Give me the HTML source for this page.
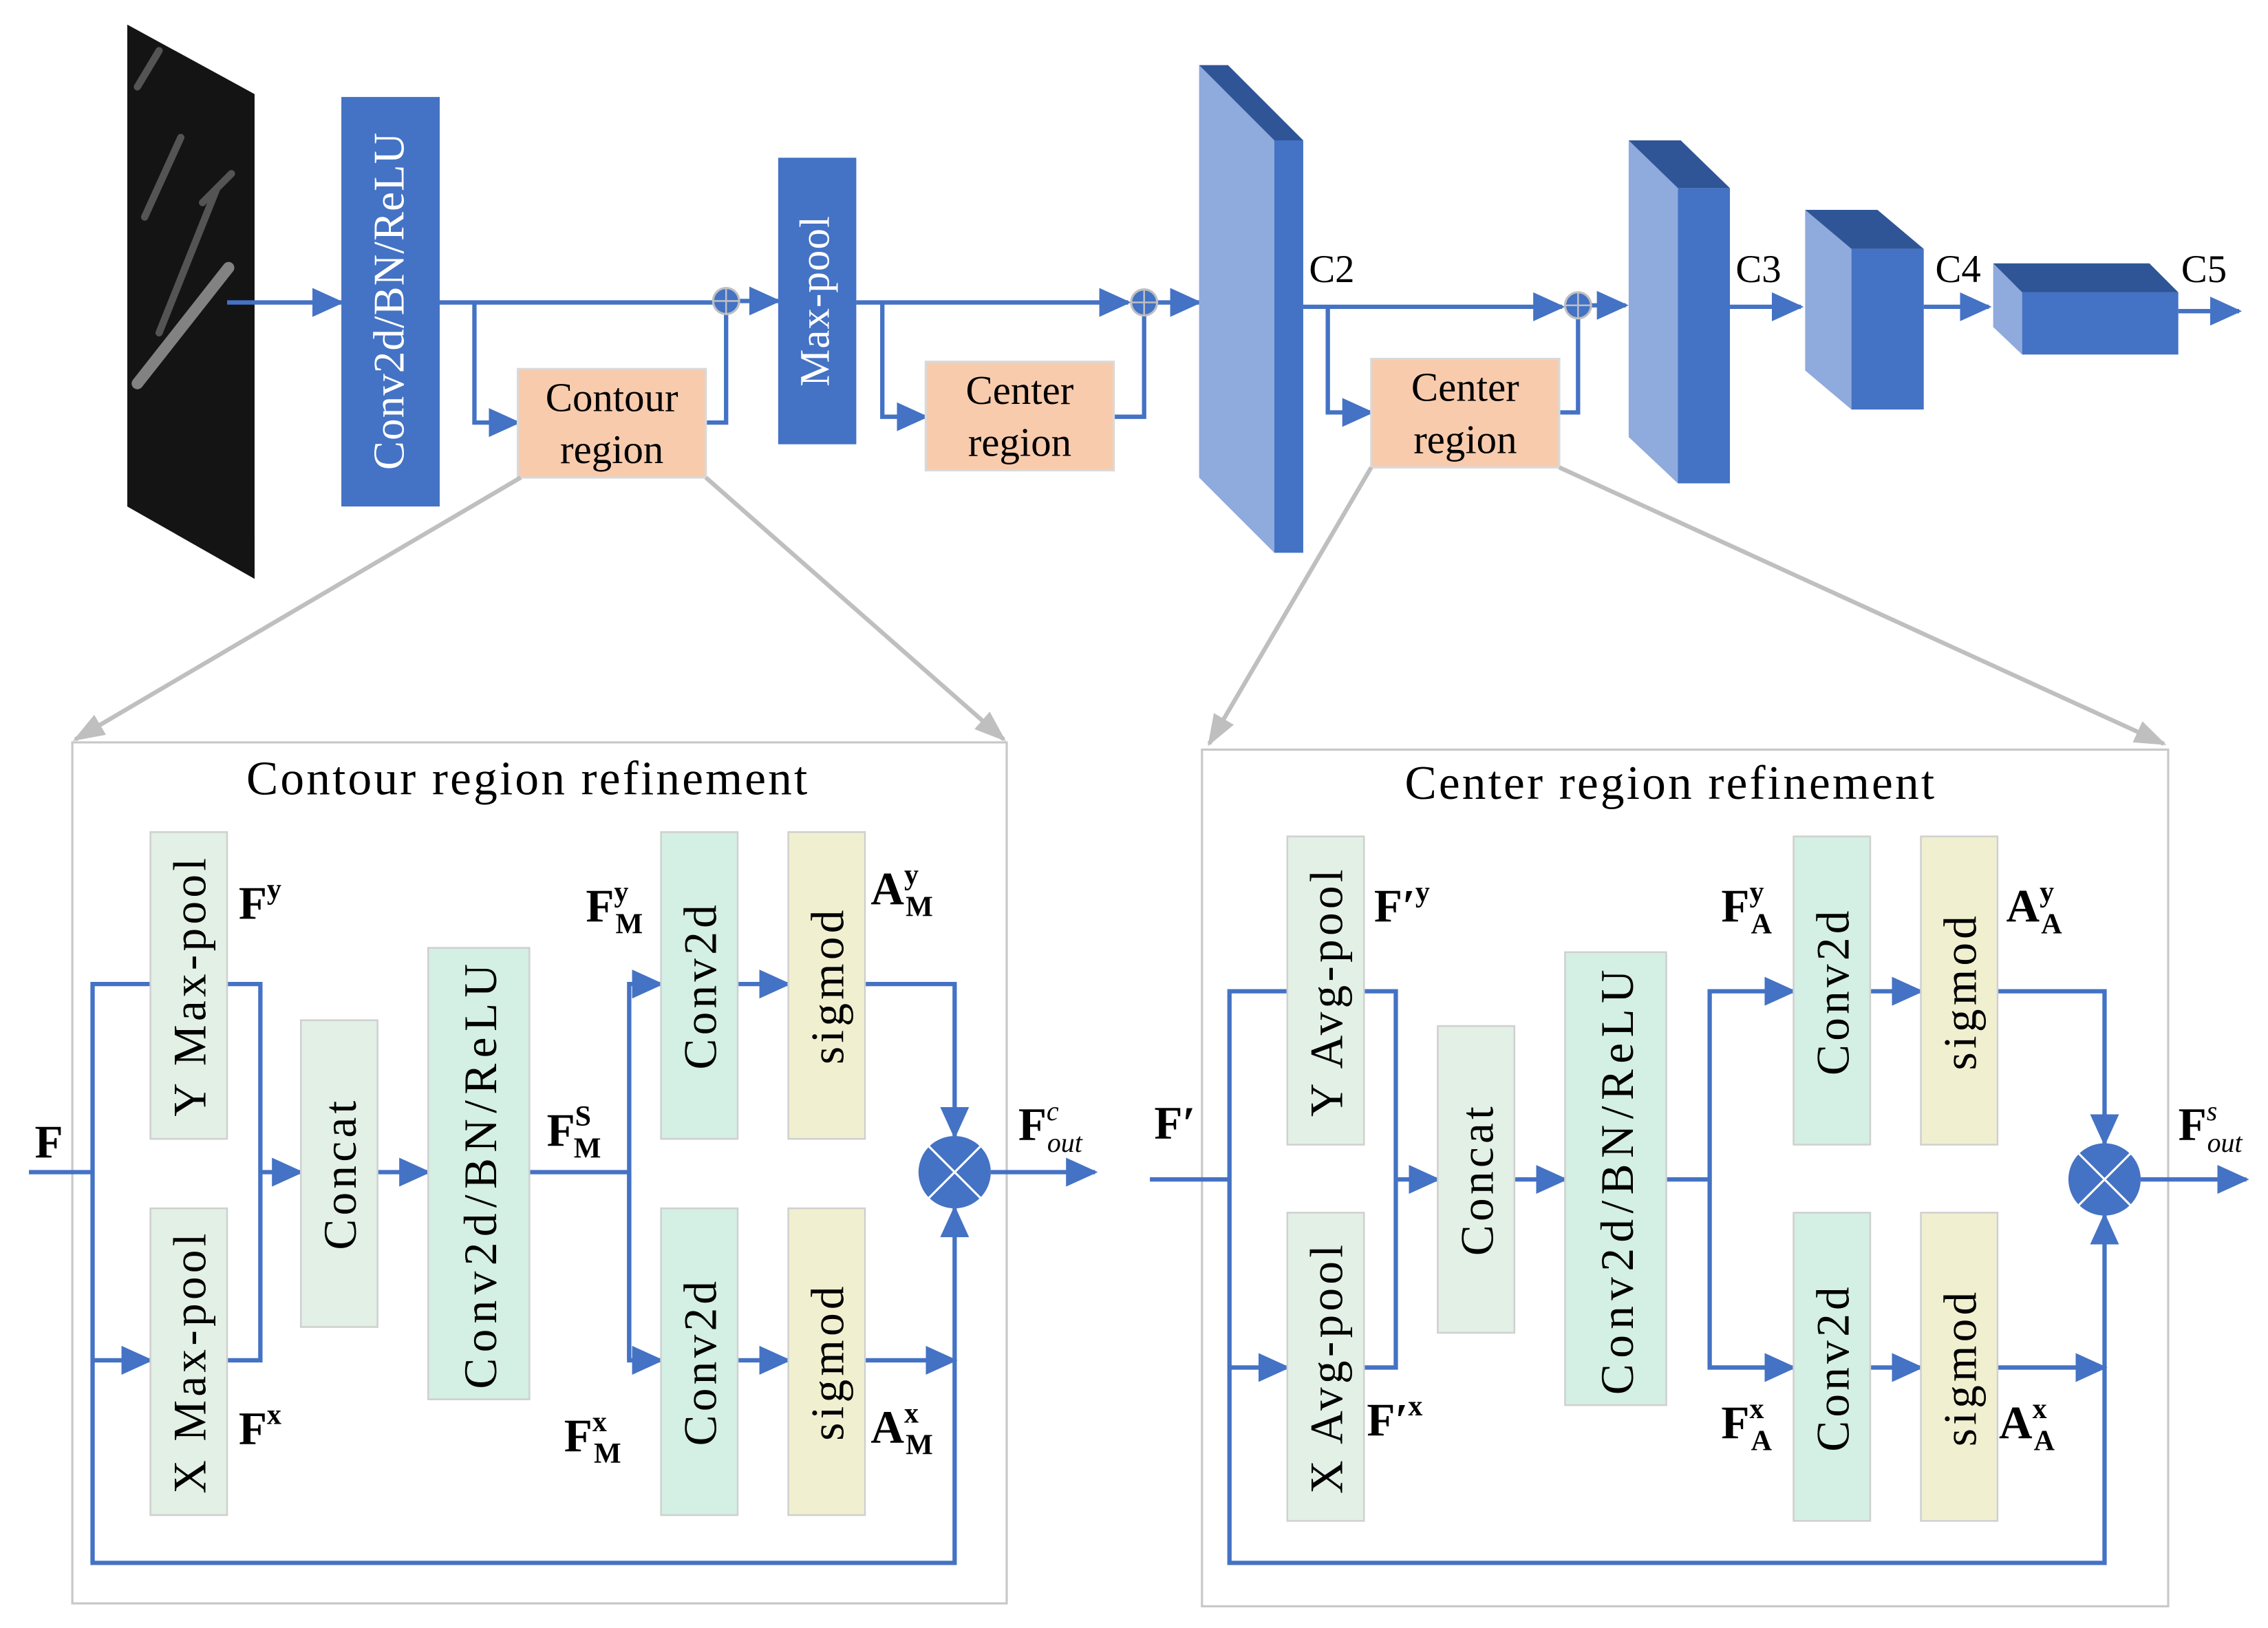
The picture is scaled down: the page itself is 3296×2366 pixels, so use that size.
<!DOCTYPE html>
<html><head><meta charset="utf-8"><style>html,body{margin:0;padding:0;background:#fff}svg{display:block}</style></head><body>
<svg xmlns="http://www.w3.org/2000/svg" width="3296" height="2366" viewBox="0 0 1568 1125" preserveAspectRatio="none" font-family="Liberation Serif, serif">
<defs>
<marker id="a" markerUnits="userSpaceOnUse" markerWidth="22" markerHeight="20" refX="20" refY="10" orient="auto"><path d="M0,0 L22,10 L0,20 z" fill="#4472C4"/></marker>
<marker id="g" markerUnits="userSpaceOnUse" markerWidth="22" markerHeight="20" refX="20" refY="10" orient="auto"><path d="M0,2 L22,10 L0,18 z" fill="#BFBFBF"/></marker>
</defs>
<!-- image -->
<polygon points="88,17 176,65 176,400 88,350" fill="#141414"/>
<g stroke="#8a8a8a" stroke-width="5" opacity="0.55" stroke-linecap="round">
<line x1="100" y1="150" x2="125" y2="95"/><line x1="110" y1="230" x2="150" y2="130"/><line x1="95" y1="60" x2="110" y2="35"/><line x1="140" y1="140" x2="160" y2="120"/>
</g>
<line x1="95" y1="265" x2="158" y2="185" stroke="#ccc" stroke-width="8" opacity="0.6" stroke-linecap="round"/>
<g stroke="#4472C4" stroke-width="3" fill="none">
<line x1="157" y1="209" x2="236" y2="209" marker-end="url(#a)"/>
<line x1="304" y1="209" x2="494" y2="209"/>
<polyline points="328,209 328,292 358,292" marker-end="url(#a)"/>
<polyline points="488,292 502,292 502,217"/>
<line x1="511" y1="208" x2="538" y2="208" marker-end="url(#a)"/>
<line x1="592" y1="209" x2="780" y2="209" marker-end="url(#a)"/>
<polyline points="610,209 610,288 640,288" marker-end="url(#a)"/>
<polyline points="770,288 791,288 791,218"/>
<line x1="800" y1="209" x2="829" y2="209" marker-end="url(#a)"/>
<line x1="901" y1="212" x2="1080" y2="212" marker-end="url(#a)"/>
<polyline points="918,212 918,285 948,285" marker-end="url(#a)"/>
<polyline points="1078,285 1091,285 1091,220"/>
<line x1="1100" y1="211" x2="1124" y2="211" marker-end="url(#a)"/>
<line x1="1196" y1="212" x2="1245" y2="212" marker-end="url(#a)"/>
<line x1="1330" y1="212" x2="1375" y2="212" marker-end="url(#a)"/>
<line x1="1506" y1="215" x2="1548" y2="215" marker-end="url(#a)"/>
</g>
<g fill="#4472C4" stroke="#BFBFBF" stroke-width="1.5"><circle cx="502" cy="208" r="9"/><circle cx="791" cy="209" r="9"/><circle cx="1091" cy="211" r="9"/></g>
<g stroke="#BFBFBF" stroke-width="1.2"><path d="M493,208h18M502,199v18M782,209h18M791,200v18M1082,211h18M1091,202v18"/></g>
<rect x="236" y="67" width="68" height="283" fill="#4472C4"/>
<text transform="translate(279,208) rotate(-90)" text-anchor="middle" font-size="30" letter-spacing="0.5" fill="#fff">Conv2d/BN/ReLU</text>
<rect x="538" y="109" width="54" height="198" fill="#4472C4"/>
<text transform="translate(573,208) rotate(-90)" text-anchor="middle" font-size="29" letter-spacing="0.5" fill="#fff">Max-pool</text>
<g fill="#F8CBAD" stroke="#D9D9D9" stroke-width="1.5">
<rect x="358" y="255" width="130" height="75"/><rect x="640" y="250" width="130" height="75"/><rect x="948" y="248" width="130" height="75"/></g>
<g font-size="28" text-anchor="middle">
<text x="423" y="284">Contour</text><text x="423" y="320">region</text>
<text x="705" y="279">Center</text><text x="705" y="315">region</text>
<text x="1013" y="277">Center</text><text x="1013" y="313">region</text></g>
<!-- blocks -->
<polygon points="829,45 881,97 881,382 829,330" fill="#8FAADC"/><rect x="881" y="97" width="20" height="285" fill="#4472C4"/><polygon points="829,45 849,45 901,97 881,97" fill="#2F5597"/>
<polygon points="1126,97 1160,130 1160,334 1126,302" fill="#8FAADC"/><rect x="1160" y="130" width="36" height="204" fill="#4472C4"/><polygon points="1126,97 1162,97 1196,130 1160,130" fill="#2F5597"/>
<polygon points="1248,145 1280,172 1280,283 1248,256" fill="#8FAADC"/><rect x="1280" y="172" width="50" height="111" fill="#4472C4"/><polygon points="1248,145 1298,145 1330,172 1280,172" fill="#2F5597"/>
<polygon points="1378,182 1398,202 1398,245 1378,226" fill="#8FAADC"/><rect x="1398" y="202" width="108" height="43" fill="#4472C4"/><polygon points="1378,182 1486,182 1506,202 1398,202" fill="#2F5597"/>
<g font-size="27"><text x="905" y="195">C2</text><text x="1200" y="195">C3</text><text x="1338" y="195">C4</text><text x="1508" y="195">C5</text></g>
<!-- gray zoom lines -->
<g stroke="#BFBFBF" stroke-width="3">
<line x1="360" y1="330" x2="52" y2="511" marker-end="url(#g)"/><line x1="488" y1="330" x2="694" y2="511" marker-end="url(#g)"/>
<line x1="948" y1="323" x2="836" y2="514" marker-end="url(#g)"/><line x1="1078" y1="323" x2="1496" y2="514" marker-end="url(#g)"/></g>
<!-- panels -->
<rect x="50" y="513" width="646" height="595" fill="none" stroke="#C8C8C8" stroke-width="1.5"/>
<rect x="831" y="518" width="668" height="592" fill="none" stroke="#C8C8C8" stroke-width="1.5"/>
<text x="365" y="549" font-size="33" letter-spacing="1.5" text-anchor="middle">Contour region refinement</text>
<text x="1155" y="552" font-size="33" letter-spacing="1.5" text-anchor="middle">Center region refinement</text>
<!-- left panel lines -->
<g stroke="#4472C4" stroke-width="3" fill="none">
<line x1="20" y1="810" x2="64" y2="810"/>
<polyline points="104,680 64,680 64,1080 660,1080 660,835" marker-end="url(#a)"/>
<line x1="64" y1="940" x2="104" y2="940" marker-end="url(#a)"/>
<polyline points="157,680 180,680 180,940 157,940"/>
<line x1="180" y1="810" x2="208" y2="810" marker-end="url(#a)"/>
<line x1="261" y1="810" x2="296" y2="810" marker-end="url(#a)"/>
<polyline points="366,810 435,810"/>
<polyline points="435,940 435,680 457,680" marker-end="url(#a)"/>
<polyline points="435,810 435,940 457,940" marker-end="url(#a)"/>
<line x1="510" y1="680" x2="545" y2="680" marker-end="url(#a)"/>
<line x1="510" y1="940" x2="545" y2="940" marker-end="url(#a)"/>
<polyline points="598,680 660,680 660,785" marker-end="url(#a)"/>
<line x1="598" y1="940" x2="660" y2="940" marker-end="url(#a)"/>
<line x1="685" y1="810" x2="757" y2="810" marker-end="url(#a)"/>
</g>
<!-- right panel lines -->
<g stroke="#4472C4" stroke-width="3" fill="none">
<line x1="795" y1="815" x2="850" y2="815"/>
<polyline points="890,685 850,685 850,1080 1455,1080 1455,840" marker-end="url(#a)"/>
<line x1="850" y1="945" x2="890" y2="945" marker-end="url(#a)"/>
<polyline points="943,685 965,685 965,945 943,945"/>
<line x1="965" y1="815" x2="994" y2="815" marker-end="url(#a)"/>
<line x1="1047" y1="815" x2="1082" y2="815" marker-end="url(#a)"/>
<line x1="1152" y1="815" x2="1182" y2="815"/>
<polyline points="1182,815 1182,685 1240,685" marker-end="url(#a)"/>
<polyline points="1182,815 1182,945 1240,945" marker-end="url(#a)"/>
<line x1="1293" y1="685" x2="1328" y2="685" marker-end="url(#a)"/>
<line x1="1293" y1="945" x2="1328" y2="945" marker-end="url(#a)"/>
<polyline points="1381,685 1455,685 1455,790" marker-end="url(#a)"/>
<line x1="1381" y1="945" x2="1455" y2="945" marker-end="url(#a)"/>
<line x1="1480" y1="815" x2="1553" y2="815" marker-end="url(#a)"/>
</g>
<!-- boxes -->
<g stroke="#D0D0D0" stroke-width="1.2">
<rect x="104" y="575" width="53" height="212" fill="#E2F0E6"/><rect x="104" y="835" width="53" height="212" fill="#E2F0E6"/>
<rect x="208" y="705" width="53" height="212" fill="#E2F0E6"/>
<rect x="296" y="655" width="70" height="312" fill="#D4EFE4"/>
<rect x="457" y="575" width="53" height="212" fill="#D4EFE4"/><rect x="457" y="835" width="53" height="212" fill="#D4EFE4"/>
<rect x="545" y="575" width="53" height="212" fill="#F0F0D0"/><rect x="545" y="835" width="53" height="212" fill="#F0F0D0"/>
<rect x="890" y="578" width="53" height="213" fill="#E2F0E6"/><rect x="890" y="838" width="53" height="213" fill="#E2F0E6"/>
<rect x="994" y="709" width="53" height="212" fill="#E2F0E6"/>
<rect x="1082" y="658" width="70" height="313" fill="#D4EFE4"/>
<rect x="1240" y="578" width="53" height="213" fill="#D4EFE4"/><rect x="1240" y="838" width="53" height="213" fill="#D4EFE4"/>
<rect x="1328" y="578" width="53" height="213" fill="#F0F0D0"/><rect x="1328" y="838" width="53" height="213" fill="#F0F0D0"/>
</g>
<g font-size="32" text-anchor="middle" letter-spacing="2.5">
<text transform="translate(142,681) rotate(-90)">Y Max-pool</text>
<text transform="translate(142,941) rotate(-90)">X Max-pool</text>
<text transform="translate(246,811) rotate(-90)">Concat</text>
<text transform="translate(343,811) rotate(-90)" letter-spacing="4">Conv2d/BN/ReLU</text>
<text transform="translate(495,681) rotate(-90)">Conv2d</text>
<text transform="translate(495,941) rotate(-90)">Conv2d</text>
<text transform="translate(583,681) rotate(-90)">sigmod</text>
<text transform="translate(583,941) rotate(-90)">sigmod</text>
<text transform="translate(928,685) rotate(-90)">Y Avg-pool</text>
<text transform="translate(928,945) rotate(-90)">X Avg-pool</text>
<text transform="translate(1032,815) rotate(-90)">Concat</text>
<text transform="translate(1129,815) rotate(-90)" letter-spacing="4">Conv2d/BN/ReLU</text>
<text transform="translate(1278,685) rotate(-90)">Conv2d</text>
<text transform="translate(1278,945) rotate(-90)">Conv2d</text>
<text transform="translate(1366,685) rotate(-90)">sigmod</text>
<text transform="translate(1366,945) rotate(-90)">sigmod</text>
</g>
<!-- multiply circles -->
<g><circle cx="660" cy="810" r="25" fill="#4472C4"/><path d="M642,792L678,828M678,792L642,828" stroke="#fff" stroke-width="1.5"/>
<circle cx="1455" cy="815" r="25" fill="#4472C4"/><path d="M1437,797L1473,833M1473,797L1437,833" stroke="#fff" stroke-width="1.5"/></g>
<!-- labels -->
<g font-size="32" font-weight="bold">
<text x="24" y="800">F</text>
<text x="165" y="635">F<tspan font-size="20" dy="-14">y</tspan></text>
<text x="165" y="998">F<tspan font-size="20" dy="-14">x</tspan></text>
<text x="378" y="792">F<tspan font-size="20" dy="-14">S</tspan><tspan font-size="20" dx="-12" dy="22">M</tspan></text>
<text x="405" y="637">F<tspan font-size="20" dy="-14">y</tspan><tspan font-size="20" dx="-9" dy="22">M</tspan></text>
<text x="390" y="1003">F<tspan font-size="20" dy="-14">x</tspan><tspan font-size="20" dx="-9" dy="22">M</tspan></text>
<text x="602" y="625">A<tspan font-size="20" dy="-14">y</tspan><tspan font-size="20" dx="-9" dy="22">M</tspan></text>
<text x="602" y="997">A<tspan font-size="20" dy="-14">x</tspan><tspan font-size="20" dx="-9" dy="22">M</tspan></text>
<text x="704" y="788">F<tspan font-size="19" font-weight="normal" font-style="italic" dy="-14">c</tspan><tspan font-size="19" font-weight="normal" font-style="italic" dx="-8" dy="22">out</tspan></text>
<text x="798" y="787">F′</text>
<text x="950" y="637">F′<tspan font-size="20" dy="-14">y</tspan></text>
<text x="945" y="992">F′<tspan font-size="20" dy="-14">x</tspan></text>
<text x="1190" y="637">F<tspan font-size="20" dy="-14">y</tspan><tspan font-size="20" dx="-9" dy="22">A</tspan></text>
<text x="1190" y="994">F<tspan font-size="20" dy="-14">x</tspan><tspan font-size="20" dx="-9" dy="22">A</tspan></text>
<text x="1387" y="637">A<tspan font-size="20" dy="-14">y</tspan><tspan font-size="20" dx="-9" dy="22">A</tspan></text>
<text x="1382" y="994">A<tspan font-size="20" dy="-14">x</tspan><tspan font-size="20" dx="-9" dy="22">A</tspan></text>
<text x="1506" y="788">F<tspan font-size="19" font-weight="normal" font-style="italic" dy="-14">s</tspan><tspan font-size="19" font-weight="normal" font-style="italic" dx="-7" dy="22">out</tspan></text>
</g>
</svg>
</body></html>
